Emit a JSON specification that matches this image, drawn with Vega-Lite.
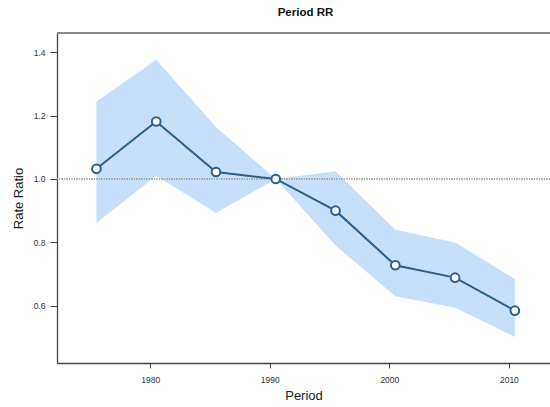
{
  "$schema": "https://vega.github.io/schema/vega-lite/v6.json",
  "autosize": {"type": "none"},
  "padding": {"left": 57, "top": 33, "right": 0, "bottom": 44},
  "width": 493,
  "height": 330,
  "background": "white",
  "config": {
    "view": {"stroke": null},
    "font": "Liberation Sans",
    "axis": {"grid": false}
  },
  "title": {
    "text": "Period RR",
    "fontSize": 11.5,
    "fontWeight": "bold",
    "font": "Liberation Sans",
    "color": "#111",
    "anchor": "middle",
    "offset": 14,
    "dx": 2
  },
  "data": {
    "values": [
      {"period": 1975.5, "rr": 1.032, "lo": 0.861, "hi": 1.244},
      {"period": 1980.5, "rr": 1.181, "lo": 1.010, "hi": 1.376},
      {"period": 1985.5, "rr": 1.022, "lo": 0.893, "hi": 1.164},
      {"period": 1990.5, "rr": 1.000, "lo": 1.000, "hi": 1.000},
      {"period": 1995.5, "rr": 0.900, "lo": 0.790, "hi": 1.024},
      {"period": 2000.5, "rr": 0.728, "lo": 0.630, "hi": 0.840},
      {"period": 2005.5, "rr": 0.689, "lo": 0.594, "hi": 0.800},
      {"period": 2010.5, "rr": 0.585, "lo": 0.502, "hi": 0.685}
    ]
  },
  "encoding": {
    "x": {
      "field": "period",
      "type": "quantitative",
      "scale": {"domain": [1972.2, 2013.44], "nice": false, "zero": false},
      "axis": {
        "title": "Period",
        "values": [1980, 1990, 2000, 2010],
        "format": "d",
        "tickSize": 5,
        "tickColor": "#444",
        "domainColor": "#444",
        "domainWidth": 1.3,
        "labelFontSize": 8.5,
        "labelColor": "#333",
        "labelPadding": 7,
        "titleFontSize": 13,
        "titleFontWeight": "normal",
        "titleColor": "#222",
        "titlePadding": 6
      }
    },
    "y": {
      "field": "rr",
      "type": "quantitative",
      "scale": {"domain": [0.42, 1.46], "nice": false, "zero": false},
      "axis": {
        "title": "Rate Ratio",
        "values": [0.6, 0.8, 1.0, 1.2, 1.4],
        "format": ".1f",
        "tickSize": 7,
        "tickColor": "#444",
        "domainColor": "#444",
        "domainWidth": 1.3,
        "labelFontSize": 8.5,
        "labelColor": "#333",
        "labelPadding": 5,
        "titleFontSize": 13,
        "titleFontWeight": "normal",
        "titleColor": "#222",
        "titlePadding": 8
      }
    }
  },
  "layer": [
    {
      "mark": {"type": "area", "color": "#c6e0fb", "opacity": 1},
      "encoding": {
        "y": {"field": "lo", "type": "quantitative"},
        "y2": {"field": "hi"}
      }
    },
    {
      "mark": {"type": "rule", "color": "#aaa", "strokeDash": [1, 1.5], "strokeWidth": 0.8},
      "encoding": {"y": {"datum": 1}, "x": null}
    },
    {
      "mark": {"type": "rule", "color": "#888", "strokeWidth": 1},
      "encoding": {"y": {"datum": 1.46}, "x": null}
    },
    {
      "mark": {"type": "line", "color": "#2e5f8a", "strokeWidth": 2}
    },
    {
      "mark": {"type": "point", "filled": true, "fill": "white", "stroke": "#2e5f8a", "strokeWidth": 2, "size": 75, "opacity": 1}
    }
  ]
}
